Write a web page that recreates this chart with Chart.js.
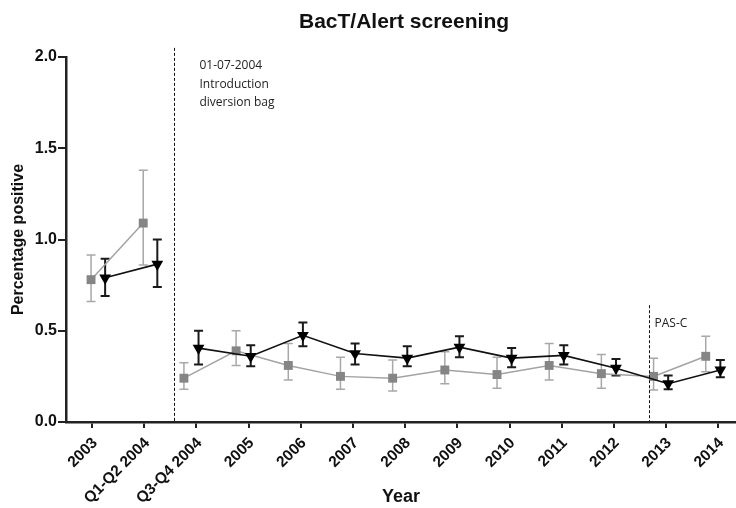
<!DOCTYPE html>
<html>
<head>
<meta charset="utf-8">
<script src="https://cdn.jsdelivr.net/npm/chart.js@4/dist/chart.umd.min.js"></script>
<style>
  html, body { margin: 0; padding: 0; background: #fff; overflow: hidden; }
  #wrap { width: 736px; height: 508px; position: relative; }
</style>
</head>
<body>
<div id="wrap"><canvas id="c"></canvas></div>
<script>
// ---- Data ----
const categories = ['2003', 'Q1-Q2 2004', 'Q3-Q4 2004', '2005', '2006', '2007', '2008', '2009', '2010', '2011', '2012', '2013', '2014'];

const grayMean = [0.78, 1.09, 0.24, 0.39, 0.31, 0.25, 0.24, 0.285, 0.26, 0.31, 0.265, 0.25, 0.36];
const grayLow  = [0.66, 0.86, 0.18, 0.31, 0.23, 0.18, 0.17, 0.21, 0.185, 0.23, 0.185, 0.175, 0.275];
const grayHigh = [0.915, 1.38, 0.325, 0.50, 0.43, 0.355, 0.34, 0.385, 0.355, 0.43, 0.37, 0.35, 0.47];

const blackMean = [0.79, 0.865, 0.405, 0.36, 0.475, 0.375, 0.35, 0.41, 0.35, 0.365, 0.295, 0.21, 0.285];
const blackLow  = [0.69, 0.74, 0.315, 0.305, 0.415, 0.315, 0.305, 0.355, 0.30, 0.315, 0.255, 0.18, 0.245];
const blackHigh = [0.895, 1.0, 0.50, 0.42, 0.545, 0.43, 0.415, 0.47, 0.405, 0.42, 0.345, 0.255, 0.34];

const yTicks = [0, 0.5, 1.0, 1.5, 2.0];

// the series are not connected across this break (after category index 1)
const breakAfterIndex = 1;

const eventLines = [
  { x: 1.57, yTop: 2.05, text: ['01-07-2004', 'Introduction', 'diversion bag'] },
  { x: 10.67, yTop: 0.64, text: ['PAS-C'] }
];

// ---- Style / layout helpers ----
function shiftFor(series, i) {
  // horizontal nudges of the two series within each category (as drawn in the source)
  if (series === 'gray') return i < 2 ? -0.02 : -0.24;
  return i < 2 ? 0.25 : 0.04;
}

const grayPts = grayMean.map((v, i) => ({ x: i + shiftFor('gray', i), y: v, lo: grayLow[i], hi: grayHigh[i] }));
const blackPts = blackMean.map((v, i) => ({ x: i + shiftFor('black', i), y: v, lo: blackLow[i], hi: blackHigh[i] }));

const errorBars = {
  id: 'errorBars',
  beforeDatasetsDraw(chart) {
    const ctx = chart.ctx;
    const ys = chart.scales.y;
    chart.data.datasets.forEach((ds, di) => {
      const meta = chart.getDatasetMeta(di);
      ctx.save();
      ctx.strokeStyle = ds.errColor;
      ctx.lineWidth = ds.errWidth;
      meta.data.forEach((el, i) => {
        const p = ds.data[i];
        const x = el.x;
        const yl = ys.getPixelForValue(p.lo);
        const yh = ys.getPixelForValue(p.hi);
        const cw = ds.capHalf;
        ctx.beginPath();
        ctx.moveTo(x, yl); ctx.lineTo(x, yh);
        ctx.moveTo(x - cw, yl); ctx.lineTo(x + cw, yl);
        ctx.moveTo(x - cw, yh); ctx.lineTo(x + cw, yh);
        ctx.stroke();
      });
      ctx.restore();
    });
  }
};

const annotations = {
  id: 'annotations',
  afterDraw(chart) {
    const ctx = chart.ctx;
    const xs = chart.scales.x, ys = chart.scales.y;
    ctx.save();
    // title
    ctx.fillStyle = '#111';
    ctx.font = 'bold 21px "Liberation Sans", Arial, sans-serif';
    ctx.textAlign = 'center';
    ctx.textBaseline = 'middle';
    ctx.fillText('BacT/Alert screening', 404, 22);
    // event lines
    eventLines.forEach(ev => {
      const px = Math.round(xs.getPixelForValue(ev.x)) + 0.5;
      const top = ys.getPixelForValue(ev.yTop);
      const bot = ys.getPixelForValue(0);
      ctx.strokeStyle = '#111';
      ctx.lineWidth = 1;
      ctx.setLineDash([3, 2]);
      ctx.beginPath();
      ctx.moveTo(px, top); ctx.lineTo(px, bot);
      ctx.stroke();
      ctx.setLineDash([]);
      ctx.fillStyle = '#222';
      ctx.font = '12px "Open Sans", sans-serif';
      ctx.textAlign = 'left';
      ctx.textBaseline = 'middle';
      ev.text.forEach((t, k) => {
        ctx.fillText(t, px + (ev.text.length === 1 ? 5 : 25), top + 18 + k * 18.5);
      });
    });
    ctx.restore();
  }
};

const breakSegment = {
  borderColor: (c) => (c.p0DataIndex === breakAfterIndex ? 'rgba(0,0,0,0)' : undefined)
};

new Chart(document.getElementById('c'), {
  type: 'line',
  data: {
    datasets: [
      {
        label: 'Gray series',
        data: grayPts,
        borderColor: '#a3a3a3',
        borderWidth: 1.5,
        backgroundColor: '#858585',
        pointBackgroundColor: '#858585',
        pointBorderColor: '#858585',
        pointStyle: 'rect',
        pointRadius: 6.3,
        pointBorderWidth: 0,
        segment: breakSegment,
        errColor: '#a8a8a8',
        errWidth: 1.5,
        capHalf: 4.5,
        clip: false,
        order: 2
      },
      {
        label: 'Black series',
        data: blackPts,
        borderColor: '#111',
        borderWidth: 1.6,
        backgroundColor: '#000',
        pointBackgroundColor: '#000',
        pointBorderColor: '#000',
        pointStyle: 'triangle',
        pointRotation: 180,
        pointRadius: 6.8,
        pointBorderWidth: 0,
        segment: breakSegment,
        errColor: '#1a1a1a',
        errWidth: 2,
        capHalf: 4.5,
        clip: false,
        order: 1
      }
    ]
  },
  options: {
    responsive: true,
    maintainAspectRatio: false,
    animation: false,
    layout: { autoPadding: false, padding: { top: 57, left: 0, right: 0, bottom: 0 } },
    plugins: {
      legend: { display: false },
      tooltip: { enabled: false },
      title: { display: false }
    },
    scales: {
      x: {
        type: 'linear',
        min: -0.5,
        max: 12.34,
        afterFit(s) { s.height = 86; s.paddingLeft = 0; s.paddingRight = 0; },
        afterBuildTicks(s) { s.ticks = categories.map((c, i) => ({ value: i })); },
        grid: {
          drawOnChartArea: false,
          drawTicks: true,
          tickLength: 6,
          color: '#222',
          lineWidth: 2
        },
        border: { display: true, color: '#222', width: 2.5 },
        ticks: {
          autoSkip: false,
          minRotation: 45,
          maxRotation: 45,
          padding: 6,
          labelOffset: 3,
          color: '#111',
          font: { family: '"Liberation Sans", Arial, sans-serif', size: 15.5, weight: 'bold' },
          callback: (v) => categories[v]
        },
        title: {
          display: true,
          text: 'Year',
          color: '#111',
          font: { family: '"Liberation Sans", Arial, sans-serif', size: 18, weight: 'bold' },
          padding: { top: 0, bottom: 0 }
        }
      },
      y: {
        min: 0,
        max: 2.0,
        afterFit(s) { s.width = 66; s.paddingTop = 0; s.paddingBottom = 0; },
        afterBuildTicks(s) { s.ticks = yTicks.map(v => ({ value: v })); },
        grid: {
          drawOnChartArea: false,
          drawTicks: true,
          tickLength: 8,
          color: '#222',
          lineWidth: 2
        },
        border: { display: true, color: '#222', width: 2.5 },
        ticks: {
          padding: 1,
          color: '#111',
          font: { family: '"Liberation Sans", Arial, sans-serif', size: 16, weight: 'bold' },
          callback: (v) => Number(v).toFixed(1)
        },
        title: {
          display: true,
          text: 'Percentage positive',
          color: '#111',
          font: { family: '"Liberation Sans", Arial, sans-serif', size: 16, weight: 'bold' },
          padding: { top: 9, bottom: 0 }
        }
      }
    }
  },
  plugins: [errorBars, annotations]
});
</script>
</body>
</html>
